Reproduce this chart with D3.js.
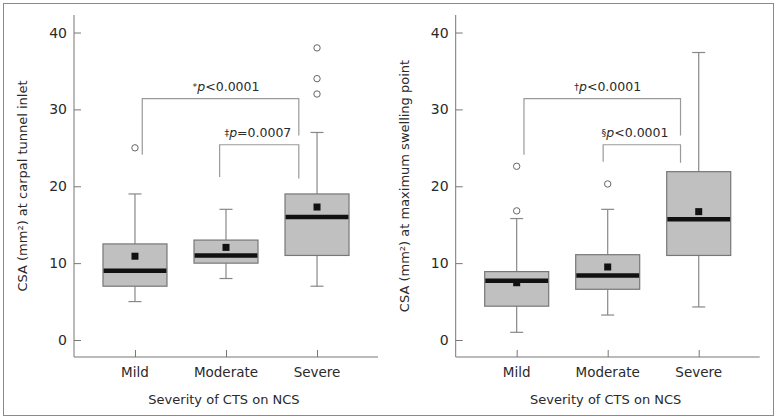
<!DOCTYPE html>
<html>
<head>
<meta charset="utf-8">
<script src="https://cdn.jsdelivr.net/npm/d3@7"></script>
<style>
  body { margin: 0; background: #fff; }
  svg { display: block; font-family: "DejaVu Sans", sans-serif; }
</style>
</head>
<body>
<svg id="chart" width="779" height="420"></svg>
<script>
// Categories on the x axis
const categories = ['Mild', 'Moderate', 'Severe'];
const yTicks = [0, 10, 20, 30, 40];

// Left panel: CSA at carpal tunnel inlet
const inletLow = [5, 8, 7];
const inletQ1 = [7, 10, 11];
const inletMedian = [9, 11, 16];
const inletQ3 = [12.5, 13, 19];
const inletHigh = [19, 17, 27];
const inletMean = [10.9, 12.05, 17.3];
const inletOutliers = [[25], [], [32, 34, 38]];

// Right panel: CSA at maximum swelling point
const swellLow = [1.0, 3.25, 4.3];
const swellQ1 = [4.4, 6.6, 11.0];
const swellMedian = [7.7, 8.4, 15.7];
const swellQ3 = [8.9, 11.1, 21.9];
const swellHigh = [15.8, 17, 37.4];
const swellMean = [7.45, 9.5, 16.7];
const swellOutliers = [[16.8, 22.6], [20.3], []];

// Significance brackets (x in category index units, y in data units)
const inletBrackets = [
    { x1: 0.08, x2: 1.8, y: 31.4, y1: 24.1, y2: 26.6, labelX: 1, sym: '*', text: 'p<0.0001' },
    { x1: 0.93, x2: 1.8, y: 25.4, y1: 21.2, y2: 21.0, labelX: 1.35, sym: '‡', text: 'p=0.0007' }
];
const swellBrackets = [
    { x1: 0.08, x2: 1.8, y: 31.4, y1: 24.1, y2: 26.6, labelX: 1, sym: '†', text: 'p<0.0001' },
    { x1: 0.95, x2: 1.8, y: 25.4, y1: 23.2, y2: 23.05, labelX: 1.3, sym: '§', text: 'p<0.0001' }
];

const svg = d3.select('#chart');

// Outer frame
svg.append('rect')
    .attr('x', 3.5).attr('y', 3.5)
    .attr('width', 770).attr('height', 412)
    .attr('fill', 'none')
    .attr('stroke', '#8a8a8a');

function drawPanel(axisX, title, low, q1, med, q3, high, mean, outliers, brackets) {
    const top = 15, bottom = 357, plotW = 304;
    const g = svg.append('g');

    const y = d3.scaleLinear().domain([-2.21, 42.28]).range([bottom, top]);
    const x = d3.scalePoint().domain(categories).range([axisX, axisX + plotW]).padding(0.67);
    const step = x.step();
    const xi = i => x(categories[0]) + i * step;

    // Axes (ticks point inward)
    const yAxis = g.append('g')
        .attr('transform', `translate(${axisX},0)`)
        .call(d3.axisRight(y).tickValues(yTicks).tickSize(7).tickFormat(''));
    yAxis.select('.domain').remove();
    g.append('line')
        .attr('x1', axisX).attr('x2', axisX)
        .attr('y1', top).attr('y2', bottom)
        .attr('stroke', '#777');
    yAxis.selectAll('line').attr('stroke', '#777');

    g.selectAll('.ylab')
        .data(yTicks)
        .join('text')
        .attr('x', axisX - 7)
        .attr('y', d => y(d))
        .attr('dy', '0.36em')
        .attr('text-anchor', 'end')
        .attr('font-size', 14)
        .attr('fill', '#2a2a2a')
        .text(d => d);

    const xAxis = g.append('g')
        .attr('transform', `translate(0,${bottom})`)
        .call(d3.axisTop(x).tickSize(7).tickFormat(''));
    xAxis.select('.domain').remove();
    xAxis.selectAll('line').attr('stroke', '#777');
    g.append('line')
        .attr('x1', axisX).attr('x2', axisX + plotW)
        .attr('y1', bottom).attr('y2', bottom)
        .attr('stroke', '#777');

    g.selectAll('.xlab')
        .data(categories)
        .join('text')
        .attr('x', d => x(d))
        .attr('y', 377)
        .attr('text-anchor', 'middle')
        .attr('font-size', 13.5)
        .attr('fill', '#2a2a2a')
        .text(d => d);

    g.append('text')
        .attr('x', axisX + plotW / 2 - 2)
        .attr('y', 404)
        .attr('text-anchor', 'middle')
        .attr('font-size', 13)
        .attr('fill', '#2a2a2a')
        .text('Severity of CTS on NCS');

    g.append('text')
        .attr('transform', `translate(${axisX - 47},${(top + bottom) / 2}) rotate(-90)`)
        .attr('text-anchor', 'middle')
        .attr('font-size', 13)
        .attr('fill', '#2a2a2a')
        .text(title);

    // Brackets
    brackets.forEach(b => {
        g.append('path')
            .attr('d', `M${xi(b.x1)},${y(b.y1)}V${y(b.y)}H${xi(b.x2)}V${y(b.y2)}`)
            .attr('fill', 'none')
            .attr('stroke', '#9a9a9a')
            .attr('stroke-width', 1.2);
        const t = g.append('text')
            .attr('x', xi(b.labelX))
            .attr('y', y(b.y) - 8)
            .attr('text-anchor', 'middle')
            .attr('font-size', 12.5)
            .attr('fill', '#2a2a2a');
        t.append('tspan').attr('font-size', 9.5).attr('dy', -1).text(b.sym);
        t.append('tspan').attr('font-style', 'italic').attr('dy', 1).text(b.text.slice(0, 1));
        t.append('tspan').text(b.text.slice(1));
    });

    const boxW = 64, capW = 13;
    const rows = categories.map((c, i) => ({ c, low: low[i], q1: q1[i], med: med[i], q3: q3[i], high: high[i], mean: mean[i], out: outliers[i] }));

    const box = g.selectAll('.box')
        .data(rows)
        .join('g');

    // Whiskers
    box.append('line')
        .attr('x1', d => x(d.c)).attr('x2', d => x(d.c))
        .attr('y1', d => y(d.high)).attr('y2', d => y(d.q3))
        .attr('stroke', '#888').attr('stroke-width', 1.2);
    box.append('line')
        .attr('x1', d => x(d.c)).attr('x2', d => x(d.c))
        .attr('y1', d => y(d.q1)).attr('y2', d => y(d.low))
        .attr('stroke', '#888').attr('stroke-width', 1.2);
    box.append('line')
        .attr('x1', d => x(d.c) - capW / 2).attr('x2', d => x(d.c) + capW / 2)
        .attr('y1', d => y(d.high)).attr('y2', d => y(d.high))
        .attr('stroke', '#888').attr('stroke-width', 1.2);
    box.append('line')
        .attr('x1', d => x(d.c) - capW / 2).attr('x2', d => x(d.c) + capW / 2)
        .attr('y1', d => y(d.low)).attr('y2', d => y(d.low))
        .attr('stroke', '#888').attr('stroke-width', 1.2);

    // Box
    box.append('rect')
        .attr('x', d => x(d.c) - boxW / 2)
        .attr('y', d => y(d.q3))
        .attr('width', boxW)
        .attr('height', d => y(d.q1) - y(d.q3))
        .attr('fill', '#c0c0c0')
        .attr('stroke', '#777')
        .attr('stroke-width', 1.2);

    // Mean square
    box.append('rect')
        .attr('x', d => x(d.c) - 3.5)
        .attr('y', d => y(d.mean) - 3.5)
        .attr('width', 7).attr('height', 7)
        .attr('fill', '#111');

    // Median
    box.append('line')
        .attr('x1', d => x(d.c) - boxW / 2 + 0.6).attr('x2', d => x(d.c) + boxW / 2 - 0.6)
        .attr('y1', d => y(d.med)).attr('y2', d => y(d.med))
        .attr('stroke', '#111').attr('stroke-width', 4.5);

    // Outliers
    box.selectAll('circle')
        .data(d => d.out.map(v => ({ c: d.c, v })))
        .join('circle')
        .attr('cx', d => x(d.c))
        .attr('cy', d => y(d.v))
        .attr('r', 3.2)
        .attr('fill', '#fff')
        .attr('stroke', '#666')
        .attr('stroke-width', 1);
}

drawPanel(74, 'CSA (mm²) at carpal tunnel inlet',
    inletLow, inletQ1, inletMedian, inletQ3, inletHigh, inletMean, inletOutliers, inletBrackets);
drawPanel(455.7, 'CSA (mm²) at maximum swelling point',
    swellLow, swellQ1, swellMedian, swellQ3, swellHigh, swellMean, swellOutliers, swellBrackets);
</script>
</body>
</html>
